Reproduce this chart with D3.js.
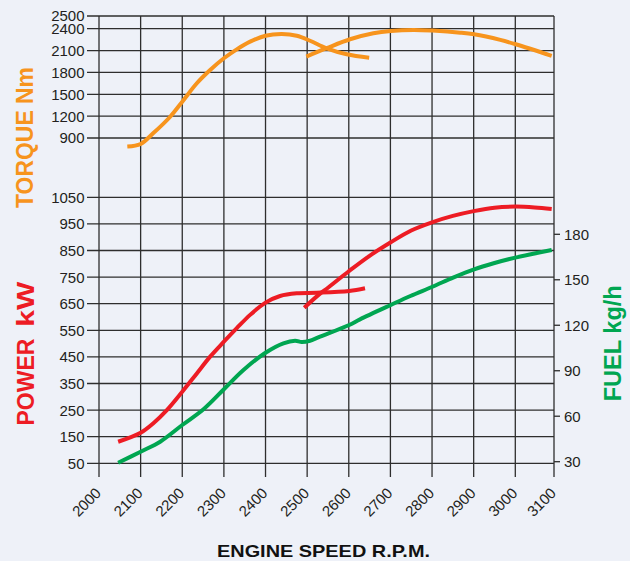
<!DOCTYPE html>
<html>
<head>
<meta charset="utf-8">
<script src="https://cdn.jsdelivr.net/npm/d3@7"></script>
<style>
  html, body { margin: 0; padding: 0; background: #EEF1F8; }
  svg { display: block; }
  text { font-family: "Liberation Sans", Arial, Helvetica, sans-serif; }
</style>
</head>
<body>
<svg id="chart" width="630" height="561"></svg>
<script>
// ---- Data ----
const rpmTicks = [2000, 2100, 2200, 2300, 2400, 2500, 2600, 2700, 2800, 2900, 3000, 3100];
const torqueTicks = [900, 1200, 1500, 1800, 2100, 2400, 2500];
const powerTicks = [50, 150, 250, 350, 450, 550, 650, 750, 850, 950, 1050];
const fuelTicks = [30, 60, 90, 120, 150, 180];

// Torque (Nm) – two overlapping curves
const torqueLowRpm = [2068, 2100, 2130, 2171, 2200, 2235, 2267, 2300, 2331, 2363, 2400, 2439, 2475, 2507, 2547, 2595, 2649];
const torqueLowVal = [782, 818, 964, 1192, 1398, 1651, 1833, 1994, 2117, 2222, 2304, 2327, 2304, 2235, 2131, 2049, 2002];
const torqueHighRpm = [2498, 2547, 2603, 2659, 2701, 2756, 2801, 2868, 2901, 2964, 3001, 3094];
const torqueHighVal = [2018, 2133, 2255, 2337, 2369, 2383, 2374, 2346, 2323, 2246, 2187, 2028];

// Power (kW) – two overlapping curves
const powerLowRpm = [2046, 2100, 2130, 2163, 2200, 2235, 2267, 2300, 2331, 2363, 2400, 2435, 2475, 2523, 2601, 2639];
const powerLowVal = [131, 165, 200, 250, 319, 388, 451, 507, 558, 608, 654, 679, 689, 691, 698, 708];
const powerHighRpm = [2493, 2531, 2550, 2600, 2650, 2700, 2750, 2800, 2850, 2900, 2950, 3000, 3050, 3094];
const powerHighVal = [635, 688, 710, 772, 830, 880, 925, 956, 980, 998, 1011, 1015, 1012, 1006];

// Fuel (kg/h)
const fuelRpm = [2046, 2100, 2147, 2200, 2251, 2300, 2347, 2400, 2443, 2471, 2487, 2507, 2531, 2601, 2627, 2701, 2748, 2801, 2852, 2901, 2948, 3000, 3094];
const fuelVal = [29.3, 36.6, 43.2, 54.2, 64.6, 77.8, 90.5, 101.9, 108.1, 109.8, 108.9, 109.8, 112.5, 120.2, 123.9, 133.4, 139.3, 145.4, 151.6, 156.9, 160.9, 164.6, 169.6];

// ---- Layout ----
const svg = d3.select("#chart");
const right = 554, gridTop = 16, gridBottom = 477;
const ORANGE = "#F7941D", RED = "#ED1C24", GREEN = "#00A651", INK = "#231F20", GRID = "#2e2e2e";

const x = d3.scaleLinear().domain([2000, 3000, 3100]).range([99, 515.3, 554]);
const yT = d3.scaleLinear().domain([900, 2400, 2500]).range([138, 28.7, 16]);
const yP = d3.scaleLinear().domain([50, 1050]).range([463.3, 197.3]);
const yF = d3.scaleLinear().domain([30, 180]).range([461.7, 234.3]);

svg.append("rect").attr("width", 630).attr("height", 561).attr("fill", "#EEF1F8");

const grid = svg.append("g").attr("stroke", GRID).attr("stroke-width", 1.3).attr("fill", "none");

// vertical grid lines (extend below as ticks)
grid.selectAll("line.v").data(rpmTicks).join("line")
  .attr("x1", d => x(d)).attr("x2", d => x(d))
  .attr("y1", gridTop).attr("y2", gridBottom);

// horizontal torque lines
grid.selectAll("line.t").data(torqueTicks).join("line")
  .attr("x1", 87).attr("x2", right)
  .attr("y1", d => yT(d)).attr("y2", d => yT(d));

// horizontal power lines
grid.selectAll("line.p").data(powerTicks).join("line")
  .attr("x1", 87).attr("x2", right)
  .attr("y1", d => yP(d)).attr("y2", d => yP(d));

// fuel ticks (right side, outward)
grid.selectAll("line.f").data(fuelTicks).join("line")
  .attr("x1", right).attr("x2", right + 6)
  .attr("y1", d => yF(d)).attr("y2", d => yF(d));

// tick labels
const lab = svg.append("g").attr("fill", INK).attr("font-size", 15);
lab.selectAll("text.t").data(torqueTicks).join("text")
  .attr("x", 84.5).attr("y", d => yT(d)).attr("dy", "0.36em")
  .attr("text-anchor", "end").text(d => d);
lab.selectAll("text.p").data(powerTicks).join("text")
  .attr("x", 84.5).attr("y", d => yP(d)).attr("dy", "0.36em")
  .attr("text-anchor", "end").text(d => d);
lab.selectAll("text.f").data(fuelTicks).join("text")
  .attr("x", 564).attr("y", d => yF(d)).attr("dy", "0.36em")
  .attr("text-anchor", "start").text(d => d);
lab.selectAll("text.x").data(rpmTicks).join("text")
  .attr("transform", d => `translate(${x(d) + 3},${494}) rotate(-45)`)
  .attr("text-anchor", "end").text(d => d);

// curves
const line = (ys) => d3.line().x(d => x(d[0])).y(d => ys(d[1])).curve(d3.curveCatmullRom.alpha(0.5));
const zip = (a, b) => a.map((v, i) => [v, b[i]]);
const curves = svg.append("g").attr("fill", "none").attr("stroke-width", 4).attr("stroke-linecap", "butt");
curves.append("path").attr("d", line(yT)(zip(torqueLowRpm, torqueLowVal))).attr("stroke", ORANGE);
curves.append("path").attr("d", line(yT)(zip(torqueHighRpm, torqueHighVal))).attr("stroke", ORANGE);
curves.append("path").attr("d", line(yP)(zip(powerLowRpm, powerLowVal))).attr("stroke", RED);
curves.append("path").attr("d", line(yP)(zip(powerHighRpm, powerHighVal))).attr("stroke", RED);
curves.append("path").attr("d", line(yF)(zip(fuelRpm, fuelVal))).attr("stroke", GREEN);

// axis titles
const titles = svg.append("g").attr("font-weight", "bold");
titles.append("text").attr("transform", "translate(33,137.5) rotate(-90)")
  .attr("text-anchor", "middle").attr("font-size", 23).attr("fill", ORANGE)
  .attr("textLength", 141).attr("lengthAdjust", "spacingAndGlyphs").text("TORQUE Nm");
titles.append("text").attr("transform", "translate(34.3,382) rotate(-90)")
  .attr("text-anchor", "middle").attr("font-size", 23.5).attr("fill", RED)
  .attr("textLength", 87).attr("lengthAdjust", "spacingAndGlyphs").text("POWER");
titles.append("text").attr("transform", "translate(34.3,304.2) rotate(-90)")
  .attr("text-anchor", "middle").attr("font-size", 23.5).attr("fill", RED)
  .attr("textLength", 45).attr("lengthAdjust", "spacingAndGlyphs").text("kW");
titles.append("text").attr("transform", "translate(620.5,343.3) rotate(-90)")
  .attr("text-anchor", "middle").attr("font-size", 23.5).attr("fill", GREEN)
  .attr("textLength", 116).attr("lengthAdjust", "spacingAndGlyphs").text("FUEL kg/h");
titles.append("text").attr("x", 323.5).attr("y", 557)
  .attr("text-anchor", "middle").attr("font-size", 17).attr("fill", "#111")
  .attr("textLength", 213).attr("lengthAdjust", "spacingAndGlyphs").text("ENGINE SPEED R.P.M.");
</script>
</body>
</html>
